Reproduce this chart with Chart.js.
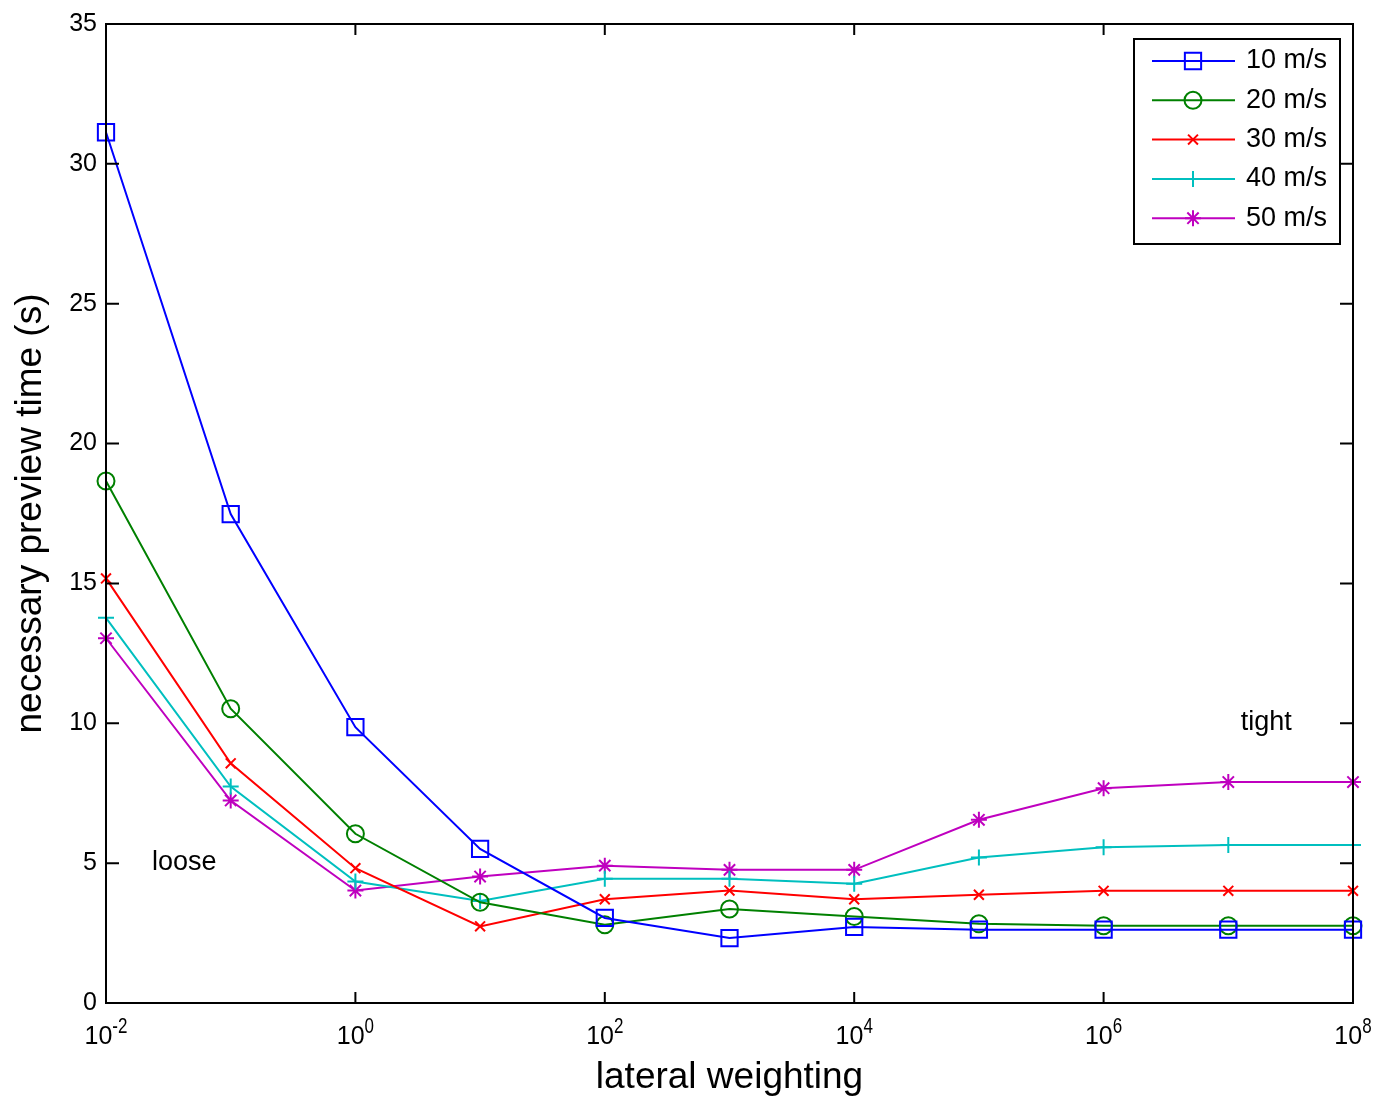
<!DOCTYPE html>
<html>
<head>
<meta charset="utf-8">
<script src="https://cdn.jsdelivr.net/npm/chart.js@4.4.0/dist/chart.umd.min.js"></script>
<style>
  html, body { margin:0; padding:0; background:#fff; }
</style>
</head>
<body>
<canvas id="c" width="1375" height="1096"></canvas>
<script>
// ---- data ----
const xValues = [1e-2, 1e-1, 1e0, 1e1, 1e2, 1e3, 1e4, 1e5, 1e6, 1e7, 1e8];
const v10 = [31.13, 17.48, 9.86, 5.51, 3.04, 2.32, 2.72, 2.62, 2.62, 2.62, 2.62];
const v20 = [18.66, 10.52, 6.05, 3.60, 2.80, 3.36, 3.09, 2.83, 2.76, 2.76, 2.76];
const v30 = [15.18, 8.57, 4.82, 2.74, 3.71, 4.02, 3.71, 3.87, 4.01, 4.01, 4.01];
const v40 = [13.77, 7.74, 4.34, 3.65, 4.44, 4.44, 4.26, 5.20, 5.57, 5.65, 5.65];
const v50 = [13.04, 7.24, 4.02, 4.52, 4.91, 4.76, 4.76, 6.55, 7.68, 7.90, 7.90];
const seriesLabels = ['10 m/s', '20 m/s', '30 m/s', '40 m/s', '50 m/s'];
const xTickExps = [-2, 0, 2, 4, 6, 8];
const yTicks = [0, 5, 10, 15, 20, 25, 30, 35];
const notes = [ { text:'loose', x:0.0234, y:5 }, { text:'tight', x:1.26e7, y:10 } ];

// ---- styles ----
const FONT = '"Liberation Sans", Arial, Helvetica, sans-serif';
const colors = ['#0000ff', '#008000', '#ff0000', '#00bfbf', '#bf00bf'];
const markers = ['rect', 'circle', 'crossRot', 'cross', 'star'];
const radii = [11.5, 8.5, 7, 8, 8];

const series = [v10, v20, v30, v40, v50];
const datasets = series.map((vals, i) => ({
  label: seriesLabels[i],
  data: vals.map((v, j) => ({ x: xValues[j], y: v })),
  borderColor: colors[i],
  borderWidth: 2,
  pointStyle: markers[i],
  pointRadius: radii[i],
  pointBorderWidth: 2,
  pointBorderColor: colors[i],
  pointBackgroundColor: 'rgba(0,0,0,0)',
  tension: 0,
  fill: false,
  clip: false,
}));

const frame = {
  id: 'frame',
  afterDraw(chart) {
    const { ctx, chartArea: a, scales: { x, y } } = chart;
    ctx.save();
    // box
    ctx.strokeStyle = '#000'; ctx.lineWidth = 2;
    ctx.strokeRect(a.left, a.top, a.right - a.left, a.bottom - a.top);
    // inward ticks
    ctx.beginPath();
    x.ticks.forEach(t => {
      const px = x.getPixelForValue(t.value);
      ctx.moveTo(px, a.bottom); ctx.lineTo(px, a.bottom - 11);
      ctx.moveTo(px, a.top);    ctx.lineTo(px, a.top + 11);
    });
    y.ticks.forEach(t => {
      const py = y.getPixelForValue(t.value);
      ctx.moveTo(a.left, py);  ctx.lineTo(a.left + 13, py);
      ctx.moveTo(a.right, py); ctx.lineTo(a.right - 13, py);
    });
    ctx.stroke();

    // x tick labels 10^n (exponent narrow and tall, as in the source figure)
    ctx.fillStyle = '#000'; ctx.textAlign = 'left'; ctx.textBaseline = 'alphabetic';
    xTickExps.forEach(e => {
      const px = x.getPixelForValue(Math.pow(10, e));
      const base = '10', sup = String(e);
      ctx.font = '25px ' + FONT; const wb = ctx.measureText(base).width;
      ctx.font = '17px ' + FONT; const ws = ctx.measureText(sup).width;
      const x0 = px - (wb + ws) / 2;
      ctx.font = '25px ' + FONT; ctx.fillText(base, x0, a.bottom + 41);
      ctx.save();
      ctx.translate(x0 + wb, a.bottom + 30);
      ctx.scale(1, 1.3);
      ctx.font = '17px ' + FONT; ctx.fillText(sup, 0, 0);
      ctx.restore();
    });

    // text notes
    ctx.font = '27px ' + FONT; ctx.textBaseline = 'middle';
    notes.forEach(n => ctx.fillText(n.text, x.getPixelForValue(n.x), y.getPixelForValue(n.y) - 1));

    // legend
    const lw = 206, lh = 205;
    const lx = a.right - 13 - lw, ly = a.top + 15;
    ctx.fillStyle = '#fff'; ctx.fillRect(lx, ly, lw, lh);
    ctx.strokeStyle = '#000'; ctx.lineWidth = 2; ctx.strokeRect(lx, ly, lw, lh);
    seriesLabels.forEach((lab, i) => {
      const ry = ly + 22 + i * 39.3;
      ctx.strokeStyle = colors[i]; ctx.lineWidth = 2;
      ctx.beginPath(); ctx.moveTo(lx + 18, ry); ctx.lineTo(lx + 101, ry); ctx.stroke();
      ctx.fillStyle = 'rgba(0,0,0,0)';
      Chart.helpers.drawPoint(ctx, { pointStyle: markers[i], radius: radii[i], rotation: 0, borderWidth: 2 }, lx + 59, ry);
      ctx.fillStyle = '#000'; ctx.font = '27px ' + FONT; ctx.textBaseline = 'middle';
      ctx.fillText(lab, lx + 112, ry);
    });
    ctx.restore();
  }
};

new Chart(document.getElementById('c'), {
  type: 'line',
  data: { datasets },
  plugins: [frame],
  options: {
    responsive: false,
    devicePixelRatio: 1,
    animation: false,
    layout: { padding: { left: 0, right: 22, top: 23, bottom: 0 } },
    plugins: { legend: { display: false }, tooltip: { enabled: false } },
    scales: {
      x: {
        type: 'logarithmic', min: 1e-2, max: 1e8,
        afterBuildTicks: s => { s.ticks = xTickExps.map(e => ({ value: Math.pow(10, e) })); },
        afterFit: s => { s.height = 93; },
        ticks: { display: false },
        grid: { display: false, drawTicks: false },
        border: { display: false },
        title: { display: true, text: 'lateral weighting', color: '#000', font: { family: FONT, size: 37, lineHeight: 1.0 }, padding: { top: 0, bottom: 0 } },
      },
      y: {
        type: 'linear', min: 0, max: 35,
        afterBuildTicks: s => { s.ticks = yTicks.map(v => ({ value: v })); },
        afterFit: s => { s.width = 106; },
        ticks: { color: '#000', font: { family: FONT, size: 25 }, padding: 9 },
        grid: { display: false, drawTicks: false },
        border: { display: false },
        title: { display: true, text: 'necessary preview time (s)', color: '#000', font: { family: FONT, size: 37, lineHeight: 1.2 }, padding: { top: 9, bottom: 0 } },
      },
    },
  },
});
</script>
</body>
</html>
